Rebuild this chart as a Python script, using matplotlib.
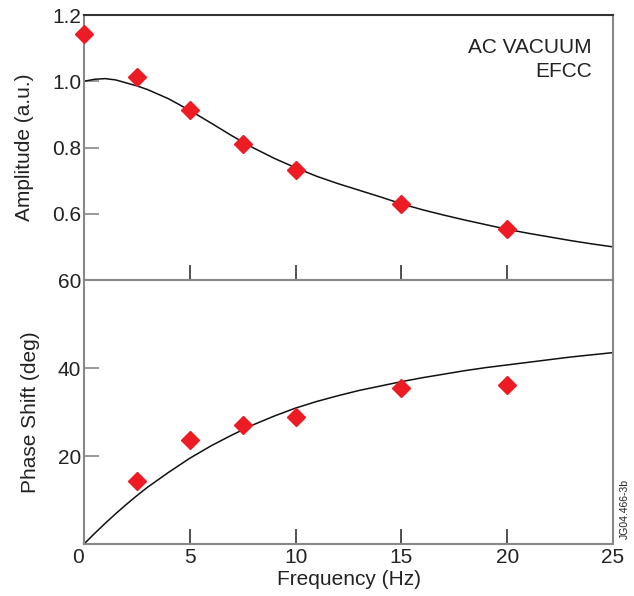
import matplotlib
matplotlib.use("Agg")
import matplotlib.pyplot as plt

plt.rcParams["font.family"] = ["Liberation Sans", "DejaVu Sans"]

# measured points
freq_pts = [0, 2.5, 5, 7.5, 10, 15, 20]
amp_pts = [1.143, 1.013, 0.913, 0.810, 0.732, 0.629, 0.553]
freq_ph_pts = [2.5, 5, 7.5, 10, 15, 20]
phase_pts = [14.3, 23.6, 27.0, 28.9, 35.5, 36.1]

# model curves
freq_curve = [0, 0.5, 1, 1.5, 2, 2.5, 3, 4, 5, 6, 7, 8, 9, 10, 11, 12, 13, 14, 15, 16, 17,
              18, 19, 20, 21, 22, 23, 24, 25]
amp_curve = [1.000, 1.006, 1.008, 1.004, 0.995, 0.986, 0.975, 0.947, 0.912, 0.874, 0.835,
             0.799, 0.767, 0.739, 0.713, 0.691, 0.671, 0.651, 0.630, 0.612, 0.596, 0.581,
             0.567, 0.553, 0.541, 0.530, 0.519, 0.509, 0.500]
phase_curve = [0.0, 2.4, 4.7, 6.9, 9.0, 11.0, 12.9, 16.3, 19.5, 22.3, 24.8, 27.1, 29.1, 30.9,
               32.4, 33.7, 34.9, 35.9, 36.9, 37.8, 38.6, 39.4, 40.1, 40.7, 41.3, 41.9, 42.5,
               43.0, 43.5]

x_ticks = [0, 5, 10, 15, 20, 25]

RED = "#ed1c24"
GREY = "#888888"
DARK = "#333333"
TXT = "#222222"
FS = 15

fig = plt.figure(figsize=(6.34, 5.96), dpi=100)
ax1 = fig.add_axes([0.1325, 0.5302, 0.8344, 0.4446])
ax2 = fig.add_axes([0.1325, 0.0872, 0.8344, 0.4430])

for ax in (ax1, ax2):
    for s in ax.spines.values():
        s.set_color(GREY)
        s.set_linewidth(1.5)
    ax.set_xlim(0, 25)
    ax.tick_params(axis="y", direction="in", length=11, width=1.2, color=GREY,
                   labelsize=FS, labelcolor=TXT, pad=2)
    ax.tick_params(axis="x", direction="in", length=11, width=1.2, color=DARK,
                   labelsize=FS, labelcolor=TXT, pad=3)
    ax.set_xticks(x_ticks)

ax1.spines["top"].set_color(DARK)

# amplitude panel
ax1.plot(freq_curve, amp_curve, color="#111111", lw=1.1, zorder=2)
ax1.plot(freq_pts, amp_pts, "D", color=RED, ms=9, mec=RED, clip_on=False, zorder=3)
ax1.set_ylim(0.4, 1.2)
ax1.set_yticks([0.4, 0.6, 0.8, 1.0, 1.2])
ax1.set_yticklabels(["", "0.6", "0.8", "1.0", "1.2"])
ax1.tick_params(axis="x", labelbottom=False)
ax1.set_ylabel("Amplitude (a.u.)", fontsize=FS, color=TXT, labelpad=13)
ax1.text(0.96, 0.915, "AC VACUUM\nEFCC", transform=ax1.transAxes, ha="right", va="top",
         fontsize=FS, color=TXT, linespacing=1.36)

# phase panel
ax2.plot(freq_curve, phase_curve, color="#111111", lw=1.1, zorder=2)
ax2.plot(freq_ph_pts, phase_pts, "D", color=RED, ms=9, mec=RED, zorder=3)
ax2.set_ylim(0, 60)
ax2.set_yticks([20, 40, 60])
ax2.set_xticklabels([str(v) for v in x_ticks])
ax2.get_xticklabels()[0].set_horizontalalignment("right")
ax2.set_ylabel("Phase Shift (deg)", fontsize=FS, color=TXT, labelpad=13)
ax2.set_xlabel("Frequency (Hz)", fontsize=FS, color=TXT, labelpad=2)
ax2.text(1.012, 0.02, "JG04.466-3b", transform=ax2.transAxes, rotation=90,
         ha="left", va="bottom", fontsize=7.5, color=TXT)

fig.savefig("out.png", dpi=100)
